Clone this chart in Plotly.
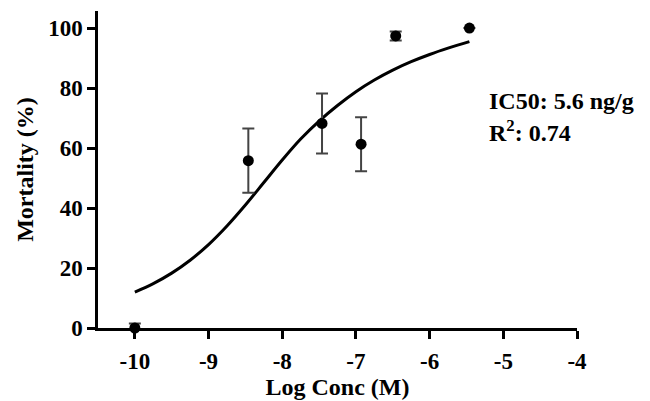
import plotly.graph_objects as go

# Observed data
log_conc = [-10.0, -8.46, -7.46, -6.93, -6.46, -5.46]
mortality = [0.0, 55.8, 68.2, 61.3, 97.4, 100.0]
mortality_err = [1.5, 10.7, 10.0, 9.0, 1.5, 0.0]

# Fitted curve
fit_x = [-10.0, -9.75, -9.5, -9.25, -9.0, -8.75, -8.5, -8.25, -8.0, -7.75, -7.5,
         -7.25, -7.0, -6.75, -6.5, -6.25, -6.0, -5.75, -5.46]
fit_y = [12.0, 14.8, 18.3, 22.6, 27.8, 34.0, 41.0, 48.5, 56.0, 63.0, 69.0,
         74.2, 78.8, 82.7, 86.0, 88.8, 91.2, 93.3, 95.5]

x_ticks = [-10, -9, -8, -7, -6, -5, -4]
y_ticks = [0, 20, 40, 60, 80, 100]

FONT = "Liberation Serif"

fig = go.Figure()
fig.add_trace(go.Scatter(
    x=fit_x, y=fit_y, mode="lines", line=dict(color="black", width=3, shape="spline"),
    hoverinfo="skip", showlegend=False))
fig.add_trace(go.Scatter(
    x=log_conc, y=mortality, mode="markers",
    marker=dict(color="black", size=11),
    error_y=dict(type="data", array=mortality_err, visible=True,
                 color="#444444", thickness=2, width=6),
    cliponaxis=False, showlegend=False))

fig.add_annotation(xref="paper", yref="paper", x=0.813, y=0.715, xanchor="left", yanchor="middle",
                   text="<b>IC50: 5.6 ng/g</b>", showarrow=False,
                   font=dict(family=FONT, size=24, color="black"))
fig.add_annotation(xref="paper", yref="paper", x=0.813, y=0.62, xanchor="left", yanchor="middle",
                   text="<b>R<sup>2</sup>: 0.74</b>", showarrow=False,
                   font=dict(family=FONT, size=24, color="black"))

fig.update_layout(
    width=650, height=401,
    margin=dict(l=98, r=73, t=11, b=73),
    paper_bgcolor="white", plot_bgcolor="white",
    font=dict(family=FONT, color="black"),
    xaxis=dict(range=[-10.5, -4], tickvals=x_ticks, ticktext=[f"<b>{v}</b>" for v in x_ticks],
               showgrid=False, zeroline=False, showline=True, linecolor="black", linewidth=2.5,
               ticks="outside", ticklen=8, tickwidth=2.5, tickcolor="black",
               ticklabelstandoff=3, automargin=False,
               tickfont=dict(family=FONT, size=23),
               title=dict(text="<b>Log Conc (M)</b>", font=dict(family=FONT, size=24), standoff=4)),
    yaxis=dict(range=[0, 105.7], tickvals=y_ticks, ticktext=[f"<b>{v}</b>" for v in y_ticks],
               showgrid=False, zeroline=False, showline=True, linecolor="black", linewidth=2.5,
               ticks="outside", ticklen=8, tickwidth=2.5, tickcolor="black",
               automargin=False,
               tickfont=dict(family=FONT, size=23),
               title=dict(text="<b>Mortality (%)</b>", font=dict(family=FONT, size=24), standoff=8)),
)

fig.write_html("out.html")
